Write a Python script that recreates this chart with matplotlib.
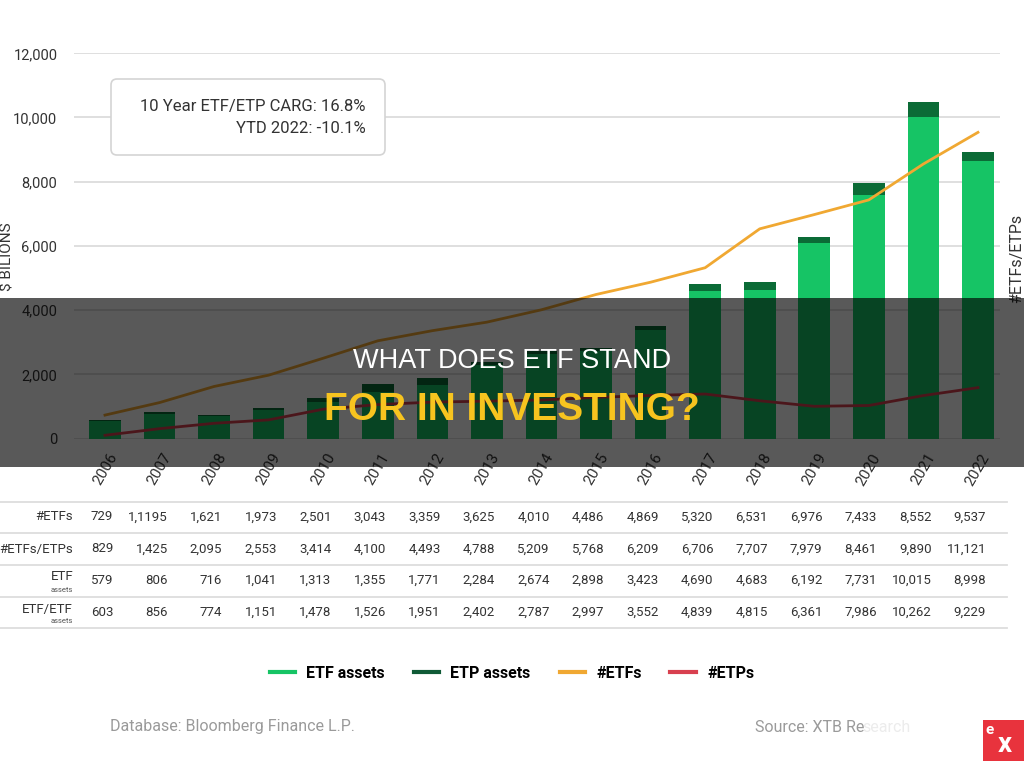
import matplotlib
matplotlib.use("Agg")
import matplotlib.pyplot as plt
import matplotlib.transforms as mtransforms
from matplotlib.lines import Line2D
from matplotlib.patches import Rectangle, FancyBboxPatch

plt.rcParams['font.family'] = ['Roboto', 'DejaVu Sans']

# data
years = ["2006", "2007", "2008", "2009", "2010", "2011", "2012", "2013", "2014",
         "2015", "2016", "2017", "2018", "2019", "2020", "2021", "2022"]

# bar heights as drawn ($ billions)
bar_etf = [540, 770, 690, 900, 1140, 1460, 1670, 2280, 2640, 2720, 3380,
           4600, 4620, 6090, 7580, 10030, 8650]
bar_total = [575, 820, 740, 955, 1250, 1690, 1870, 2390, 2740, 2805, 3500,
             4820, 4860, 6270, 7970, 10480, 8940]

# line series (counts)
n_etfs = [729, 1119, 1621, 1973, 2501, 3043, 3359, 3625, 4010, 4486, 4869,
          5320, 6531, 6976, 7433, 8552, 9537]
n_etps = [100, 306, 474, 580, 913, 1057, 1134, 1163, 1199, 1282, 1340,
          1386, 1176, 1003, 1028, 1338, 1584]

# table rows
row_etfs = ["729", "1,1195", "1,621", "1,973", "2,501", "3,043", "3,359", "3,625", "4,010",
            "4,486", "4,869", "5,320", "6,531", "6,976", "7,433", "8,552", "9,537"]
row_etfs_etps = ["829", "1,425", "2,095", "2,553", "3,414", "4,100", "4,493", "4,788", "5,209",
                 "5,768", "6,209", "6,706", "7,707", "7,979", "8,461", "9,890", "11,121"]
row_etf_assets = ["579", "806", "716", "1,041", "1,313", "1,355", "1,771", "2,284", "2,674",
                  "2,898", "3,423", "4,690", "4,683", "6,192", "7,731", "10,015", "8,998"]
row_total_assets = ["603", "856", "774", "1,151", "1,478", "1,526", "1,951", "2,402", "2,787",
                    "2,997", "3,552", "4,839", "4,815", "6,361", "7,986", "10,262", "9,229"]

c_light = "#16c465"
c_dark = "#0b6b36"
c_orange = "#f0a832"
c_red = "#d8404f"
c_text = "#333333"

W, H = 1024, 761
fig = plt.figure(figsize=(W / 100, H / 100), dpi=100)
fig.patch.set_facecolor("white")


def fx(px):
    return px / W


def fy(py):
    return 1 - py / H


ax = fig.add_axes([fx(74), fy(438.5), fx(1000) - fx(74), fy(53.3) - fy(438.5)])
x = list(range(len(years)))
caps = [t - e for t, e in zip(bar_total, bar_etf)]
ax.bar(x, bar_etf, width=0.58, color=c_light, zorder=2)
ax.bar(x, caps, bottom=bar_etf, width=0.58, color=c_dark, zorder=2)
ax.plot(x, n_etfs, color=c_orange, lw=2, zorder=3)
ax.plot(x, n_etps, color=c_red, lw=2, zorder=3)

ax.set_xlim(-0.568, 16.404)
ax.set_ylim(0, 12000)
ax.set_yticks(range(0, 12001, 2000))
ax.set_yticklabels([f"{v:,}" for v in range(0, 12001, 2000)])
ax.set_xticks(x)
ax.set_xticklabels(years, rotation=60, ha="center")
ax.tick_params(length=0, labelsize=10.5, labelcolor=c_text)
ax.tick_params(axis="x", pad=9, labelsize=11)
ax.tick_params(axis="y", pad=12)
ax.yaxis.grid(True, color="#dcdcdc", lw=1.3)
ax.set_axisbelow(True)
for s in ax.spines.values():
    s.set_visible(False)

fig.text(fx(8), fy(257), "$ BILIONS", rotation=90, ha="center", va="center",
         fontsize=11, color=c_text)
fig.text(fx(1017), fy(258), "#ETFs/ETPs", rotation=90, ha="center", va="center",
         fontsize=11.5, color=c_text)

# annotation box
pix = mtransforms.IdentityTransform()
box = FancyBboxPatch((111, H - 155), 274, 76, boxstyle="round,pad=0,rounding_size=6",
                     transform=pix, facecolor="white", edgecolor="#d4d4d4", lw=1.2)
fig.add_artist(box)
fig.text(fx(366), fy(106.5), "10 Year ETF/ETP CARG: 16.8%", ha="right", va="center",
         fontsize=12, color=c_text)
fig.text(fx(366), fy(128.5), "YTD 2022: -10.1%", ha="right", va="center",
         fontsize=12, color=c_text)

# table under the chart
tr = mtransforms.blended_transform_factory(ax.transData, fig.transFigure)
for py in [502, 533, 565, 597, 628]:
    fig.add_artist(Line2D([0, fx(1007)], [fy(py), fy(py)], color="#dddddd", lw=1.3))

rows = [(517, row_etfs), (549, row_etfs_etps), (580, row_etf_assets), (612, row_total_assets)]
for py, vals in rows:
    for i, v in enumerate(vals):
        ax.text(i + 0.15, fy(py), v, transform=tr, ha="right", va="center",
                fontsize=9.5, color=c_text, clip_on=False)

fig.text(fx(73), fy(517), "#ETFs", ha="right", va="center", fontsize=9.5, color=c_text)
fig.text(fx(73), fy(549), "#ETFs/ETPs", ha="right", va="center", fontsize=9.5, color=c_text)
fig.text(fx(73), fy(577), "ETF", ha="right", va="center", fontsize=9.5, color=c_text)
fig.text(fx(73), fy(589.5), "assets", ha="right", va="center", fontsize=5.5, color="#555555")
fig.text(fx(73), fy(609), "ETF/ETF", ha="right", va="center", fontsize=9.5, color=c_text)
fig.text(fx(73), fy(621), "assets", ha="right", va="center", fontsize=5.5, color="#555555")

# legend
handles = [Line2D([], [], color=c_light, lw=3, label="ETF assets"),
           Line2D([], [], color="#0f5a36", lw=3, label="ETP assets"),
           Line2D([], [], color=c_orange, lw=3, label="#ETFs"),
           Line2D([], [], color=c_red, lw=3, label="#ETPs")]
fig.legend(handles=handles, loc="center", bbox_to_anchor=(fx(512), fy(673)), ncol=4,
           frameon=False, handlelength=1.6, handletextpad=0.7, columnspacing=1.8,
           prop={"family": "Roboto", "weight": "bold", "size": 11.5})

# footer
fig.text(fx(110), fy(727), "Database: Bloomberg Finance L.P.", ha="left", va="center",
         fontsize=11.5, color="#9a9a9a")
fig.text(fx(755), fy(727), "Source: XTB Re", ha="left", va="center",
         fontsize=11.5, color="#9a9a9a")
fig.text(fx(862), fy(727), "search", ha="left", va="center", fontsize=11.5, color="#ececec")

# logo corner
fig.add_artist(Rectangle((fx(983), 0), fx(1024) - fx(983), fy(720), transform=fig.transFigure,
                         facecolor="#e8333d", edgecolor="none", zorder=5))
fig.text(fx(990), fy(730), "e", ha="center", va="center", fontsize=11, fontweight="bold",
         color="white", zorder=6)
fig.text(fx(1005), fy(744), "x", ha="center", va="center", fontsize=20, fontweight="bold",
         color="white", zorder=6)

# darkened title band
fig.add_artist(Rectangle((0, fy(467)), 1, fy(298) - fy(467), transform=fig.transFigure,
                         facecolor="black", alpha=0.65, edgecolor="none", zorder=10))
fig.text(0.5, fy(361), "WHAT DOES ETF STAND", ha="center", va="center",
         family=["Liberation Sans", "DejaVu Sans"], fontsize=19.5, color="white", zorder=11)
fig.text(0.5, fy(410), "FOR IN INVESTING?", ha="center", va="center",
         family=["Liberation Sans", "DejaVu Sans"], fontsize=28, fontweight="bold",
         color="#f7c41f", zorder=11)

fig.savefig("out.png", dpi=100)
